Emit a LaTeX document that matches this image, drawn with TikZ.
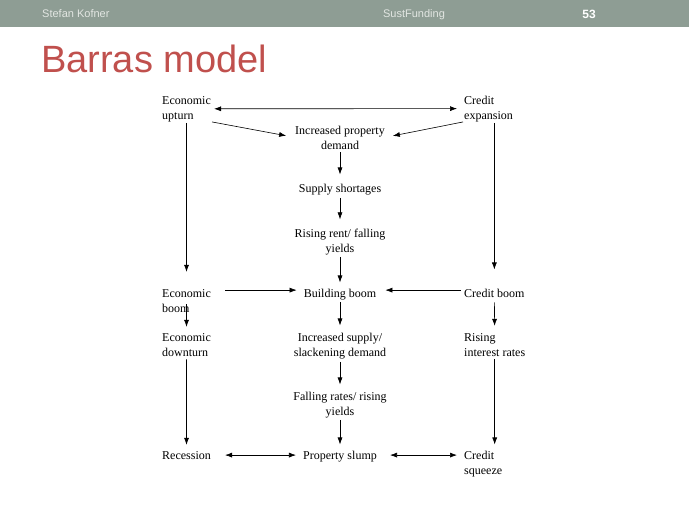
\documentclass[tikz,border=0pt]{standalone}
\usepackage{fontspec}
\setmainfont{Liberation Serif}
\newfontfamily\slidefont{Liberation Sans}
\usepackage{xcolor}
\usepackage{tikz}
\usetikzlibrary{arrows.meta}

\definecolor{barcol}{RGB}{142,157,148}
\definecolor{titlecol}{RGB}{192,80,77}
\definecolor{headtext}{RGB}{226,230,226}

\begin{document}
\begin{tikzpicture}[x=1pt,y=-1pt]
			\tikzstyle{factor} = [anchor=base west, align=left, inner sep=0pt, font=\fontsize{12}{15}\selectfont]
			\tikzstyle{stage} = [anchor=base, align=center, inner sep=0pt, font=\fontsize{12}{15}\selectfont]
			\tikzset{edge/.style = {-{Latex[length=7pt,width=5pt]}, line width=0.6pt, shorten <=3pt, shorten >=7pt}}
			\tikzset{both/.style = {edge, {Latex[length=7pt,width=5pt]}-{Latex[length=7pt,width=5pt]}}}
			\useasboundingbox (0,0) rectangle (689,517);
			
			% slide header
			\fill[barcol] (0,0) rectangle (689,27);
			\node[anchor=base west, inner sep=0pt, text=headtext, font=\slidefont\fontsize{11}{12}\selectfont](author) at (42,17) {Stefan Kofner};
			\node[anchor=base, inner sep=0pt, text=headtext, font=\slidefont\fontsize{11}{12}\selectfont](course) at (414,17) {SustFunding};
			\node[anchor=base, inner sep=0pt, text=white, font=\slidefont\bfseries\fontsize{12}{14}\selectfont](page) at (589,18) {53};
			\node[anchor=base west, inner sep=0pt, text=titlecol, font=\slidefont\fontsize{38}{44}\selectfont](title) at (41,72) {Barras model};
			
			% base of a two-line node is its second line
			\node[factor](upturn) at (162,119) {Economic\\upturn};
			\node[factor](credexp) at (464,119) {Credit\\expansion};
			\node[stage](demand) at (340,149) {Increased property\\demand};
			\node[stage](shortage) at (340,192) {Supply shortages};
			\node[stage](rent) at (340,252) {Rising rent/ falling\\yields};
			\draw[both](upturn.east) to (credexp.west);
			\draw[edge, shorten <=1pt, shorten >=9pt](upturn.south east) to (demand.west);
			\draw[edge, shorten <=1pt, shorten >=8pt](credexp.south west) to (demand.east);
			\draw[edge, shorten >=9pt](demand.south) to (shortage.north);
			\draw[edge, shorten >=9pt](shortage.south) to (rent.north);
			
			\node[factor](eboom) at (162,312) {Economic\\boom};
			\node[stage](bboom) at (340,297) {Building boom};
			\node[factor](cboom) at (464,297) {Credit boom};
			\draw[edge, shorten <=2pt, shorten >=6pt](rent.south) to (bboom.north);
			\draw[edge, shorten <=1pt, shorten >=17pt](upturn.south) to (eboom.north);
			\draw[edge, shorten <=1pt, shorten >=19pt](credexp.south -| cboom.north) to (cboom.north);
			\draw[edge, shorten <=14pt]([yshift=4pt]bboom.west -| eboom.east) to ([yshift=4pt]bboom.west);
			\draw[edge, shorten >=9pt]([yshift=4pt]cboom.west |- bboom.west) to ([yshift=4pt]bboom.east);
			
			\node[factor](downturn) at (162,356) {Economic\\downturn};
			\node[stage](supply) at (340,356) {Increased supply/\\slackening demand};
			\node[factor](interest) at (464,356) {Rising\\interest rates};
			\node[stage](falling) at (340,415) {Falling rates/ rising\\yields};
			\draw[edge, shorten <=-8pt, shorten >=6pt](eboom.south) to (downturn.north);
			\draw[edge, shorten <=2pt](bboom.south) to (supply.north);
			\draw[edge, shorten <=5pt](cboom.south) to (interest.north);
			\draw[edge](supply.south) to (falling.north);
			
			\node[factor](recession) at (162,459) {Recession};
			\node[stage](slump) at (340,459) {Property slump};
			\node[factor](squeeze) at (464,474) {Credit\\squeeze};
			\draw[edge, shorten <=2pt, shorten >=6pt](falling.south) to (slump.north);
			\draw[edge, shorten >=6pt](downturn.south) to (recession.north);
			\draw[edge, shorten >=6pt](interest.south) to (interest.south |- squeeze.north);
			\draw[both, shorten <=14pt](recession.east) to (recession.east -| slump.west);
			\draw[both, shorten <=13pt](recession.east -| slump.east) to (recession.east -| squeeze.west);
			
\end{tikzpicture}
\end{document}
